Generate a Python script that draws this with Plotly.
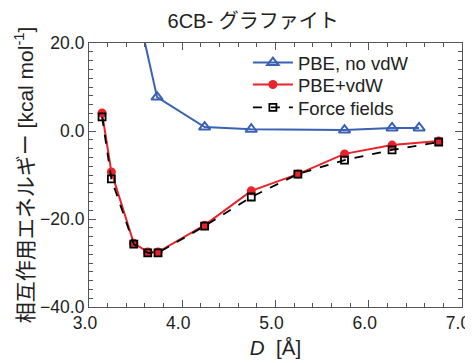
import plotly.graph_objects as go

d_novdw = [3.5, 3.73, 4.24, 4.74, 5.74, 6.25, 6.54]
e_novdw = [29.5, 7.7, 0.9, 0.4, 0.2, 0.7, 0.7]

d_vdw = [3.14, 3.24, 3.48, 3.63, 3.74, 4.24, 4.74, 5.24, 5.74, 6.25, 6.75]
e_vdw = [4.1, -9.3, -25.5, -27.5, -27.5, -21.4, -13.6, -9.8, -5.2, -3.2, -2.3]

d_ff = [3.14, 3.24, 3.48, 3.63, 3.74, 4.24, 4.74, 5.24, 5.74, 6.25, 6.75]
e_ff = [3.2, -10.9, -25.7, -27.7, -27.7, -21.6, -15.0, -9.8, -6.6, -4.3, -2.5]

FONT = "Liberation Sans, Arial, Noto Sans CJK JP, sans-serif"
BLUE = "#3a62b3"
RED = "#e8232b"
AX = "#555555"
TXT = "#222222"

fig = go.Figure()
fig.add_trace(go.Scatter(
    x=d_novdw, y=e_novdw, name="PBE, no vdW", mode="lines+markers",
    line=dict(color=BLUE, width=2),
    marker=dict(symbol="triangle-up-open", size=10, color=BLUE, line=dict(width=2)),
    cliponaxis=True, legend="legend"))
fig.add_trace(go.Scatter(
    x=d_vdw, y=e_vdw, name="PBE+vdW", mode="lines+markers",
    line=dict(color=RED, width=2),
    marker=dict(symbol="circle", size=9, color=RED), legend="legend2"))
fig.add_trace(go.Scatter(
    x=d_ff, y=e_ff, name="Force fields", mode="lines+markers",
    line=dict(color="black", width=1.8, dash="dash"),
    marker=dict(symbol="square-open", size=7, color="black", line=dict(width=1.8)),
    legend="legend3"))

axis_common = dict(
    showline=True, linecolor=AX, linewidth=1.2, mirror="allticks",
    ticks="inside", ticklen=7, tickcolor=AX, tickwidth=1.2,
    showgrid=False, zeroline=False, automargin=False,
    tickfont=dict(family=FONT, size=17.5, color=TXT),
)

fig.update_xaxes(
    range=[3.0, 7.0], dtick=1.0, tickformat=".1f", ticklabelshift=-4,
    minor=dict(dtick=0.2, ticks="inside", ticklen=4, tickcolor=AX, tickwidth=1, showgrid=False),
    title=dict(text="<i>D</i>  [Å]", font=dict(family=FONT, size=20.5, color=TXT), standoff=8),
    **axis_common)
fig.update_yaxes(
    range=[-40, 20], dtick=20, tickformat=".1f",
    minor=dict(dtick=2, ticks="inside", ticklen=4, tickcolor=AX, tickwidth=1, showgrid=False),
    title=dict(text="相互作用エネルギー [kcal mol<sup>-1</sup>]",
               font=dict(family=FONT, size=21, color=TXT), standoff=0),
    **axis_common)

leg_common = dict(x=0.426, xanchor="left", yanchor="middle",
                  bgcolor="rgba(0,0,0,0)", font=dict(family=FONT, size=18.5, color=TXT),
                  itemwidth=40)

# page body has an 8px margin: figure is offset by (8, 8) in the window
fig.update_layout(
    width=465, height=355,
    margin=dict(l=81, r=11, t=35, b=56),
    paper_bgcolor="white", plot_bgcolor="white",
    title=dict(text="6CB- グラファイト", xref="paper", x=0.44, xanchor="center",
               yref="container", y=0.962, yanchor="middle",
               font=dict(family=FONT, size=20, color=TXT)),
    legend=dict(y=0.924, **leg_common),
    legend2=dict(y=0.841, **leg_common),
    legend3=dict(y=0.754, **leg_common),
    showlegend=True,
)

fig.write_html("out.html")
